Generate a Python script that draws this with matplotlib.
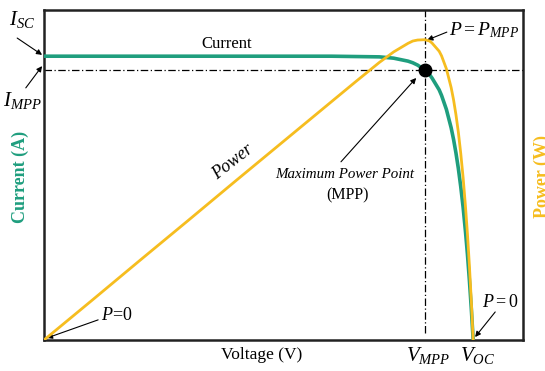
import matplotlib
matplotlib.use("Agg")
import matplotlib.pyplot as plt

plt.rcParams["font.family"] = ["Liberation Serif", "DejaVu Serif"]
plt.rcParams["mathtext.fontset"] = "custom"
plt.rcParams["mathtext.rm"] = "Liberation Serif"
plt.rcParams["mathtext.it"] = "Liberation Serif:italic"

GREEN = "#1f9e7e"
ORANGE = "#f6bd1f"

# I-V and P-V curves (normalised units)
voltage = [0, 10, 20, 30, 40, 50, 60, 65, 70, 73, 76, 77, 78, 79.5, 80.5, 81,
           82.5, 83, 84, 85, 85.5, 86, 86.5, 87, 87.5, 88, 88.4, 88.8, 89.2, 89.6]
current = [86.0, 86.0, 86.0, 86.0, 86.0, 86.0, 86.0, 85.9, 85.8, 85.4, 84.5, 84.0,
           83.3, 81.8, 80.4, 79.4, 75.8, 74.1, 69.9, 64.3, 60.8, 56.7, 52.0, 46.5,
           40.2, 32.7, 26.0, 18.3, 9.7, 0.0]
power = [0.0, 12.0, 24.1, 36.1, 48.2, 60.2, 72.2, 78.2, 84.1, 87.3, 89.9, 90.6,
         90.9, 91.0, 90.6, 90.0, 87.5, 86.1, 82.2, 76.5, 72.8, 68.3, 63.0, 56.6,
         49.2, 40.3, 32.2, 22.8, 12.1, 0.0]

v_mpp = 79.5
i_mpp = 81.8

fig = plt.figure(figsize=(5.45, 3.71), dpi=100)
ax = fig.add_axes([44 / 545, 31 / 371, 479 / 545, 330 / 371])
ax.set_xlim(0, 100)
ax.set_ylim(0, 100)
ax.set_xticks([])
ax.set_yticks([])
for s in ax.spines.values():
    s.set_linewidth(1.8)
    s.set_color("#222222")

ax.plot(voltage, current, color=GREEN, lw=2.6, zorder=3)
ax.plot(voltage, power, color=ORANGE, lw=2.0, zorder=4)

# MPP guides
ax.axvline(v_mpp, ymin=0.02, color="black", lw=0.9, ls=(0, (6, 2, 1, 2)), zorder=2)
ax.axhline(i_mpp, color="black", lw=0.9, ls=(0, (6, 2, 1, 2)), zorder=2)
ax.plot([v_mpp], [i_mpp], "o", color="black", ms=9, zorder=5)

# labels inside the plot
ax.text(38.2, 89.6, "Current", fontsize=12, ha="center", va="center")
ax.text(39.5, 54.0, "Power", fontsize=13, style="italic", rotation=38,
        ha="center", va="center")
ax.text(62.8, 50.0, "Maximum Power Point", fontsize=10.8, style="italic",
        ha="center", va="center")
ax.text(63.3, 43.9, "(MPP)", fontsize=11.5, ha="center", va="center")
ax.text(84.5, 93.8, r"$P = P_{MPP}$", fontsize=14, ha="left", va="center")
ax.text(12.0, 7.3, r"$P$=0", fontsize=13, ha="left", va="center")
ax.text(91.5, 11.5, r"$P = 0$", fontsize=13, ha="left", va="center")

# labels outside the plot
ax.text(-4.6, 97.0, r"$I_{SC}$", fontsize=15, ha="center", va="center", clip_on=False)
ax.text(-4.6, 72.7, r"$I_{MPP}$", fontsize=15, ha="center", va="center", clip_on=False)
ax.text(45.5, -4.6, "Voltage (V)", fontsize=12.5, ha="center", va="center")
ax.text(80.2, -4.6, r"$V_{MPP}$", fontsize=15, ha="center", va="center")
ax.text(90.6, -4.6, r"$V_{OC}$", fontsize=15, ha="center", va="center")

fig.text(20 / 545, 1 - 177 / 371, "Current (A)", rotation=90, color=GREEN,
         fontsize=13, fontweight="bold", ha="center", va="center")
fig.text(534 / 545, 1 - 177 / 371, "Power (W)", rotation=90, color=ORANGE,
         fontsize=13, fontweight="bold", ha="left", va="center")

arrows = [
    ((-5.6, 91.5), (-0.4, 86.4)),
    ((-3.8, 76.4), (-0.4, 83.0)),
    ((84.1, 93.3), (80.0, 90.9)),
    ((62.0, 54.0), (77.7, 79.4)),
    ((11.3, 6.1), (0.6, 0.6)),
    ((94.2, 8.5), (90.0, 0.9)),
]
for tail, head in arrows:
    ax.annotate("", xy=head, xytext=tail, annotation_clip=False,
                arrowprops=dict(arrowstyle="-|>", color="black", lw=0.8,
                                mutation_scale=8, shrinkA=0, shrinkB=0))

fig.savefig("out.png", dpi=100)
